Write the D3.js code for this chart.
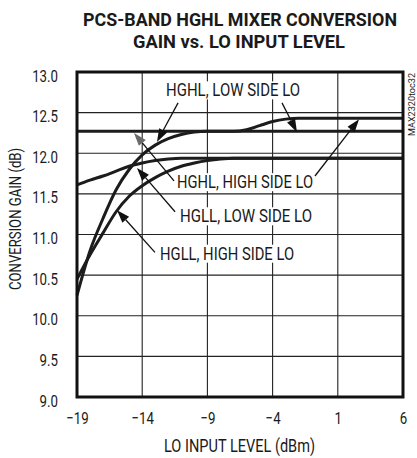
<!DOCTYPE html>
<html><head><meta charset="utf-8">
<script src="https://cdn.jsdelivr.net/npm/d3@7"></script>
<style>
body{margin:0;background:#fff}
svg{display:block}
text{font-family:Roboto,'Liberation Sans',Arial,sans-serif;fill:#1a1a1a}
</style>
</head><body>
<svg id="chart" width="417" height="458"></svg>
<script>
// ---- data ----
const loLevel = [-19,-18,-17,-16,-15,-14,-13,-12,-11,-10,-9,-8,-7,-6,-5,-4,-3,-2,-1,0,1,2,3,4,5,6];
const hghlLowSide  = [10.25,10.80,11.20,11.55,11.80,11.98,12.10,12.18,12.23,12.26,12.27,12.27,12.27,12.27,12.27,12.27,12.27,12.27,12.27,12.27,12.27,12.27,12.27,12.27,12.27,12.27];
const hghlHighSide = [12.27,12.27,12.27,12.27,12.27,12.27,12.27,12.27,12.27,12.27,12.27,12.27,12.27,12.29,12.34,12.39,12.42,12.43,12.43,12.43,12.43,12.43,12.43,12.43,12.43,12.43];
const hgllLowSide  = [11.61,11.67,11.72,11.78,11.84,11.88,11.91,11.93,11.94,11.94,11.94,11.94,11.94,11.94,11.94,11.94,11.94,11.94,11.94,11.94,11.94,11.94,11.94,11.94,11.94,11.94];
const hgllHighSide = [10.45,10.75,11.02,11.28,11.47,11.60,11.70,11.78,11.84,11.88,11.91,11.93,11.94,11.94,11.94,11.94,11.94,11.94,11.94,11.94,11.94,11.94,11.94,11.94,11.94,11.94];
const xTicks = [-19,-14,-9,-4,1,6];
const yTicks = [9.0,9.5,10.0,10.5,11.0,11.5,12.0,12.5,13.0];
const titleLines = ["PCS-BAND HGHL MIXER CONVERSION","GAIN vs. LO INPUT LEVEL"];
const xTitle = "LO INPUT LEVEL (dBm)";
const yTitle = "CONVERSION GAIN (dB)";
const sideNote = "MAX2320toc32";
// annotation labels (data units): text start, arrow tails and tips
const labels = [
  {text:"HGHL, LOW SIDE LO",  x:-12.17, y:12.70, w:134,
   arrows:[{tx:-11.25,ty:12.62,hx:-12.87,hy:12.14},{tx:-3.28,ty:12.62,hx:-2.13,hy:12.26}]},
  {text:"HGHL, HIGH SIDE LO", x:-11.33, y:11.57, w:136,
   arrows:[{tx:-11.56,ty:11.66,hx:-14.63,hy:12.25,gray:true},{tx:-0.75,ty:11.72,hx:2.63,hy:12.42}]},
  {text:"HGLL, LOW SIDE LO",  x:-11.10, y:11.15, w:132,
   arrows:[{tx:-11.48,ty:11.28,hx:-14.40,hy:11.82}]},
  {text:"HGLL, HIGH SIDE LO", x:-12.63, y:10.69, w:134,
   arrows:[{tx:-13.02,ty:10.78,hx:-15.93,hy:11.30}]}
];

// ---- layout ----
const svg = d3.select("#chart");
const L = 77, R = 403, T = 72, B = 397;
const x = d3.scaleLinear().domain([-19,6]).range([L,R]);
const y = d3.scaleLinear().domain([9,13]).range([B,T]);

// title
svg.append("text").attr("x",240).attr("y",26).attr("text-anchor","middle")
  .attr("font-size",18).attr("font-weight","bold").text(titleLines[0])
  .attr("textLength",314).attr("lengthAdjust","spacingAndGlyphs");
svg.append("text").attr("x",239).attr("y",48).attr("text-anchor","middle")
  .attr("font-size",18).attr("font-weight","bold").text(titleLines[1])
  .attr("textLength",212).attr("lengthAdjust","spacingAndGlyphs");

// grid
const g = svg.append("g");
g.selectAll("line.vx").data(xTicks).enter().append("line")
  .attr("x1",d=>x(d)).attr("x2",d=>x(d)).attr("y1",T).attr("y2",B)
  .attr("stroke","#222").attr("stroke-width",1.1);
g.selectAll("line.hy").data(yTicks).enter().append("line")
  .attr("y1",d=>y(d)).attr("y2",d=>y(d)).attr("x1",L).attr("x2",R)
  .attr("stroke","#222").attr("stroke-width",1.1);

// axes via d3 axis (labels only)
const xAxis = d3.axisBottom(x).tickValues(xTicks).tickSize(0).tickPadding(0).tickFormat(d3.format("d"));
const xg = svg.append("g").attr("transform",`translate(0,${B})`).call(xAxis);
xg.select(".domain").remove();
xg.selectAll("text").attr("font-size",17).attr("dy",null).attr("y",27).attr("fill","#1a1a1a")
  .style("font-family","Roboto,'Liberation Sans',Arial,sans-serif");
const yAxis = d3.axisLeft(y).tickValues(yTicks).tickSize(0).tickPadding(0).tickFormat(d3.format(".1f"));
const yg = svg.append("g").attr("transform",`translate(58,0)`).call(yAxis);
yg.select(".domain").remove();
yg.selectAll("text").attr("font-size",17).attr("dy",null).attr("y",9).attr("x",0).attr("fill","#1a1a1a")
  .style("font-family","Roboto,'Liberation Sans',Arial,sans-serif");
svg.selectAll(".tick text").each(function(){
  const w = this.getComputedTextLength();
  d3.select(this).attr("textLength",w*0.78).attr("lengthAdjust","spacingAndGlyphs");
});

// axis titles
svg.append("text").attr("x",239.5).attr("y",452).attr("text-anchor","middle")
  .attr("font-size",18).text(xTitle).attr("textLength",151).attr("lengthAdjust","spacingAndGlyphs");
svg.append("text").attr("transform","translate(21,219) rotate(-90)").attr("text-anchor","middle")
  .attr("font-size",16).text(yTitle).attr("textLength",142).attr("lengthAdjust","spacingAndGlyphs");
svg.append("text").attr("transform","translate(415,136) rotate(-90)").attr("text-anchor","start")
  .attr("font-size",9.5).attr("fill","#333").text(sideNote).attr("textLength",63).attr("lengthAdjust","spacingAndGlyphs");

// curves
const line = d3.line().x((d,i)=>x(loLevel[i])).y(d=>y(d)).curve(d3.curveMonotoneX);
const series = [hgllHighSide, hgllLowSide, hghlLowSide, hghlHighSide];
svg.append("g").selectAll("path").data(series).enter().append("path")
  .attr("d",line).attr("fill","none").attr("stroke","#1c1c1c").attr("stroke-width",3)
  .attr("stroke-linejoin","round");

// labels with white backing + arrows
const ag = svg.append("g");
labels.forEach(lb=>{
  const px = x(lb.x), py = y(lb.y);
  ag.append("rect").attr("x",px-2).attr("y",py-15).attr("width",lb.w+4).attr("height",18).attr("fill","#fff");
});
labels.forEach(lb=>{
  const px = x(lb.x), py = y(lb.y);
  ag.append("text").attr("x",px).attr("y",py).attr("font-size",17.5).text(lb.text)
    .attr("textLength",lb.w).attr("lengthAdjust","spacingAndGlyphs");
  lb.arrows.forEach(a=>{
    const x1=x(a.tx), y1=y(a.ty), x2=x(a.hx), y2=y(a.hy);
    const dx=x2-x1, dy=y2-y1, len=Math.hypot(dx,dy), ux=dx/len, uy=dy/len;
    const hl=13, hw=4.5;
    const bx=x2-ux*hl, by=y2-uy*hl;
    ag.append("line").attr("x1",x1).attr("y1",y1).attr("x2",bx).attr("y2",by)
      .attr("stroke","#111").attr("stroke-width",1.3);
    ag.append("path").attr("d",`M${x2},${y2}L${bx-uy*hw},${by+ux*hw}L${bx+uy*hw},${by-ux*hw}Z`)
      .attr("fill",a.gray?"#6a6a6a":"#111");
  });
});

// frame
svg.append("rect").attr("x",L).attr("y",T).attr("width",R-L).attr("height",B-T)
  .attr("fill","none").attr("stroke","#111").attr("stroke-width",3);
</script>
</body></html>
